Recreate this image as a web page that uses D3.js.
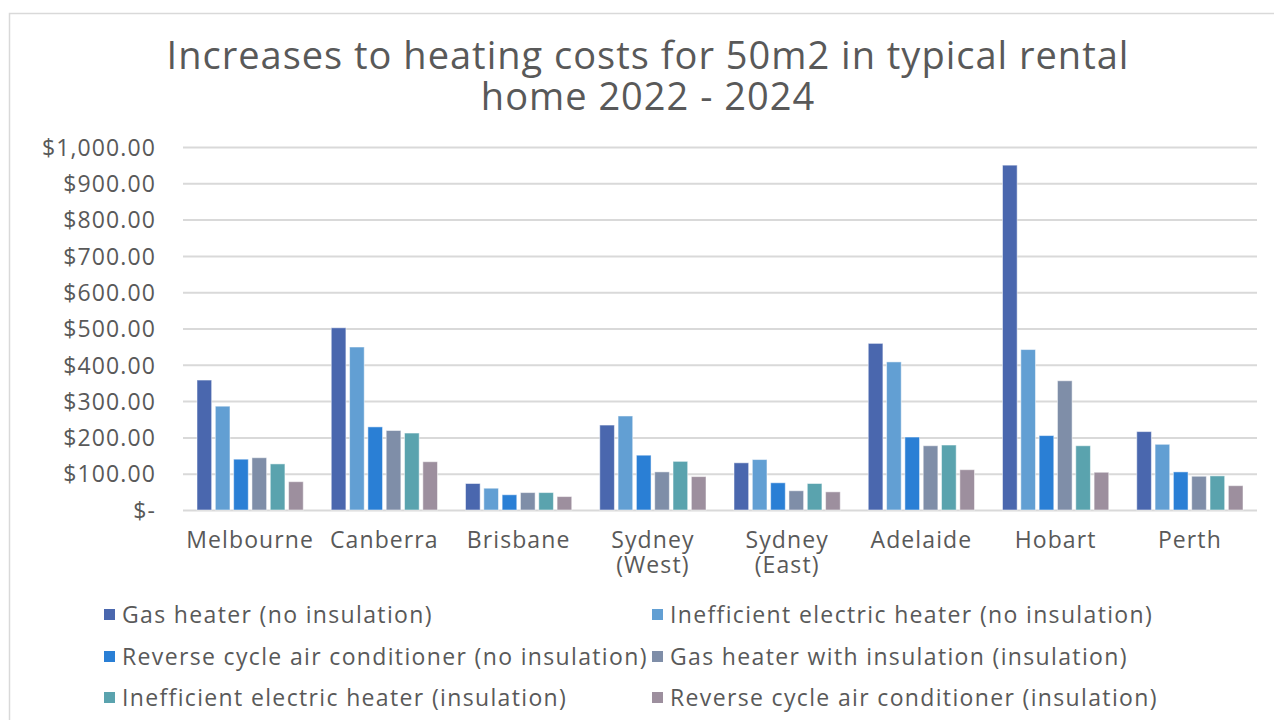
<!DOCTYPE html>
<html>
<head>
<meta charset="utf-8">
<script src="https://cdn.jsdelivr.net/npm/d3@7"></script>
<style>
    body { margin: 0; background: #fff; }
    text { font-family: "Open Sans", "Noto Sans", sans-serif; fill: #595959; letter-spacing: 1.1px; }
</style>
</head>
<body>
<div id="chart"></div>
<script>
// data
const cities = ["Melbourne", "Canberra", "Brisbane", "Sydney (West)", "Sydney (East)", "Adelaide", "Hobart", "Perth"];
const series = [
    "Gas heater (no insulation)",
    "Inefficient electric heater (no insulation)",
    "Reverse cycle air conditioner (no insulation)",
    "Gas heater with insulation (insulation)",
    "Inefficient electric heater (insulation)",
    "Reverse cycle air conditioner (insulation)"
];
const gasNoIns = [358, 502, 73, 234, 130, 459, 950, 216];
const elecNoIns = [286, 449, 60, 259, 139, 408, 442, 181];
const rcacNoIns = [140, 229, 42, 151, 75, 201, 205, 105];
const gasIns = [144, 219, 48, 105, 53, 177, 356, 93];
const elecIns = [127, 212, 48, 134, 73, 179, 177, 94];
const rcacIns = [78, 133, 37, 92, 50, 111, 104, 67];
const yTicks = [0, 100, 200, 300, 400, 500, 600, 700, 800, 900, 1000];
const colors = ["#4a67ae", "#629fd3", "#2a7fd5", "#7f8ea8", "#5aa3ae", "#9d8f9e"];

const values = [gasNoIns, elecNoIns, rcacNoIns, gasIns, elecIns, rcacIns];

const W = 1274, H = 720;
const plot = {left: 183, right: 1257, top: 147, bottom: 510};

const svg = d3.select("#chart").append("svg")
    .attr("width", W)
    .attr("height", H);

// chart area border (runs off the right edge)
svg.append("rect")
    .attr("x", 9.5).attr("y", 13.5)
    .attr("width", W + 20).attr("height", H + 20)
    .attr("fill", "none")
    .attr("stroke", "#d9d9d9")
    .attr("stroke-width", 1.5);

// title
const title = svg.append("text")
    .attr("text-anchor", "middle")
    .attr("font-size", 38)
    .style("letter-spacing", "1px");
title.append("tspan").attr("x", 648).attr("y", 69).text("Increases to heating costs for 50m2 in typical rental");
title.append("tspan").attr("x", 648).attr("y", 110).text("home 2022 - 2024");

const x0 = d3.scaleBand()
    .domain(cities)
    .range([plot.left, plot.right]);

const x1 = d3.scaleBand()
    .domain(d3.range(series.length))
    .range([14, x0.bandwidth() - 14])
    .paddingInner(0.2);

const y = d3.scaleLinear()
    .domain([0, 1000])
    .range([plot.bottom, plot.top]);

const fmt = d => d === 0 ? "$-" : "$" + d3.format(",.2f")(d);

// gridlines + y labels
const yAxis = d3.axisLeft(y)
    .tickValues(yTicks)
    .tickSize(-(plot.right - plot.left))
    .tickPadding(27)
    .tickFormat(fmt);

const gy = svg.append("g")
    .attr("transform", "translate(" + plot.left + ",0)")
    .call(yAxis);
gy.select(".domain").remove();
gy.selectAll(".tick line").attr("stroke", "#d9d9d9").attr("stroke-width", 2);
gy.selectAll(".tick text")
    .attr("font-family", null)
    .attr("font-size", 23)
    .attr("fill", "#595959")
    .attr("dy", "0.36em");

// bars
const groups = svg.append("g").selectAll("g")
    .data(cities)
    .join("g")
    .attr("transform", d => "translate(" + x0(d) + ",0)");

groups.selectAll("rect")
    .data((c, ci) => values.map((s, si) => ({si: si, v: s[ci]})))
    .join("rect")
    .attr("x", d => x1(d.si))
    .attr("width", x1.bandwidth())
    .attr("y", d => y(d.v))
    .attr("height", d => y(0) - y(d.v))
    .attr("fill", d => colors[d.si])
    .attr("stroke", "#fff")
    .attr("stroke-opacity", 0.5)
    .attr("stroke-width", 1);

// x labels, Sydney ones wrap onto a second line
const xLines = [];
cities.forEach(function (c) {
    const k = c.indexOf(" (");
    const parts = k > 0 ? [c.slice(0, k), c.slice(k + 1)] : [c];
    parts.forEach((p, i) => xLines.push({city: c, text: p, line: i}));
});
svg.append("g").selectAll("text")
    .data(xLines)
    .join("text")
    .attr("text-anchor", "middle")
    .attr("font-size", 23)
    .attr("x", d => x0(d.city) + x0.bandwidth() / 2)
    .attr("y", d => 548 + d.line * 25)
    .text(d => d.text);

// legend
const legCols = [104, 652];
const legRows = [615, 657, 698];
const leg = svg.append("g").selectAll("g")
    .data(series)
    .join("g")
    .attr("transform", (d, i) => "translate(" + legCols[i % 2] + "," + legRows[Math.floor(i / 2)] + ")");
leg.append("rect")
    .attr("x", 0).attr("y", -6)
    .attr("width", 11).attr("height", 11)
    .attr("fill", (d, i) => colors[i]);
leg.append("text")
    .attr("x", 18)
    .attr("dy", "0.36em")
    .attr("font-size", 23)
    .style("letter-spacing", "1.35px")
    .text(d => d);
</script>
</body>
</html>
